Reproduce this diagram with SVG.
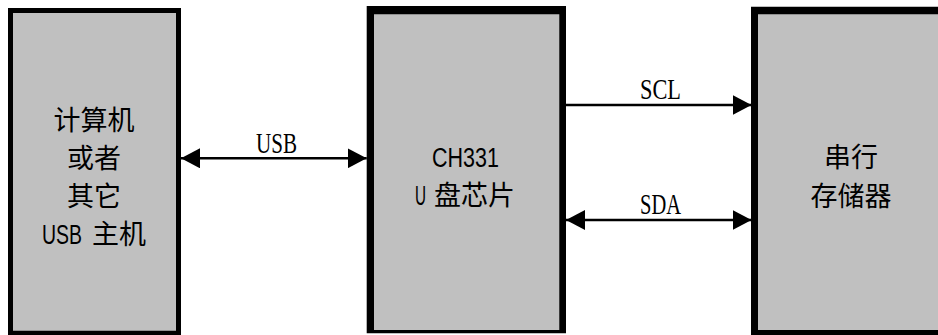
<svg xmlns="http://www.w3.org/2000/svg" width="938" height="335" viewBox="0 0 938 335">
<style>
.fill{fill:#c0c0c0}
.border{fill:#000;fill-rule:evenodd}
.cjk{font-family:"Noto Sans CJK SC","Noto Sans",sans-serif;font-size:27px;fill:#000}
.lat{font-family:"Liberation Sans","DejaVu Sans",sans-serif;font-size:27px;fill:#000}
.lbl{font-family:"Liberation Serif","DejaVu Serif",serif;font-size:29px;fill:#000}
.conn{stroke:#000;stroke-width:2.5;fill:none}
</style>
<defs>
<marker id="ah" markerUnits="userSpaceOnUse" markerWidth="19" markerHeight="20" refX="19" refY="10" orient="auto-start-reverse" viewBox="0 0 19 20">
<path d="M0,0 L19,10 L0,20 Z" fill="#000"/>
</marker>
</defs>
<rect width="938" height="335" fill="#fff"/>
<g id="host">
<rect class="fill" x="13" y="13" width="163" height="318"/>
<path class="border" d="M8,8 H181 V335 H8 Z M13,13 V330.7 H176 V13 Z"/>
<text class="cjk" x="94" y="130" text-anchor="middle">计算机</text>
<text class="cjk" x="94" y="168" text-anchor="middle">或者</text>
<text class="cjk" x="94" y="206" text-anchor="middle">其它</text>
<text class="cjk" y="244"><tspan class="lat" x="42" textLength="40" lengthAdjust="spacingAndGlyphs">USB</tspan><tspan x="92">主机</tspan></text>
</g>
<g id="ch331">
<rect class="fill" x="374" y="14" width="186" height="317"/>
<path class="border" d="M366.7,6 H566 V333.3 H366.7 Z M374,14.3 V330 H559.3 V14.3 Z"/>
<text class="lat" x="432" y="166.7" textLength="67" lengthAdjust="spacingAndGlyphs">CH331</text>
<text class="cjk" y="205"><tspan class="lat" x="415" textLength="11" lengthAdjust="spacingAndGlyphs">U</tspan><tspan x="434">盘芯片</tspan></text>
</g>
<g id="memory">
<rect class="fill" x="758" y="14" width="180" height="317"/>
<path class="border" d="M751,6.7 H940 V335 H751 Z M758,14.3 V330 H940 V14.3 Z"/>
<text class="cjk" x="851" y="167" text-anchor="middle">串行</text>
<text class="cjk" x="851" y="206" text-anchor="middle">存储器</text>
</g>
<g id="connectors">
<line class="conn" x1="181" y1="158.3" x2="366.7" y2="158.3" marker-start="url(#ah)" marker-end="url(#ah)"/>
<text class="lbl" x="256" y="153" textLength="41" lengthAdjust="spacingAndGlyphs">USB</text>
<line class="conn" x1="566" y1="105" x2="751.5" y2="105" marker-end="url(#ah)"/>
<text class="lbl" x="640" y="99.3" textLength="41" lengthAdjust="spacingAndGlyphs">SCL</text>
<line class="conn" x1="566" y1="220" x2="751.5" y2="220" marker-start="url(#ah)" marker-end="url(#ah)"/>
<text class="lbl" x="640" y="214" textLength="41" lengthAdjust="spacingAndGlyphs">SDA</text>
</g>
</svg>
